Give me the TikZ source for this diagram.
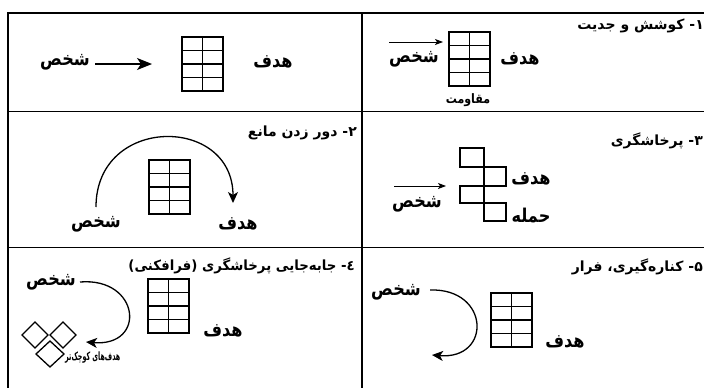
\documentclass[tikz,border=0pt]{standalone}
\usepackage{graphicx}
\usepackage{fontspec}
\newfontfamily\arabicfont[Script=Arabic]{DejaVu Sans}
\TeXXeTstate=1
\usetikzlibrary{arrows.meta}
\newcommand{\fa}[1]{\arabicfont\beginR #1\endR}
\newcommand{\faS}[2]{\scalebox{#1}[1]{\arabicfont #2}}
\tikzset{
  tbl/.style={line width=1.6pt},
  gridbox/.style={line width=1.5pt},
  lbl/.style={inner sep=0pt, font=\arabicfont\bfseries\fontsize{19}{21}\selectfont},
  ttl/.style={inner sep=0pt, font=\arabicfont\bfseries\fontsize{14}{16}\selectfont},
  small/.style={inner sep=0pt, font=\arabicfont\bfseries\fontsize{13}{15}\selectfont},
  tiny/.style={inner sep=0pt, font=\arabicfont\bfseries\fontsize{11.5}{13}\selectfont},
  conn/.style={line width=1.3pt},
  bigarr/.style={conn, -{Stealth[length=15pt,width=12pt,inset=4pt]}},
  midarr/.style={conn, -{Stealth[length=11pt,width=10pt,inset=3pt]}},
  thinarr/.style={line width=1pt, -{Stealth[length=8pt,width=6pt,inset=2pt]}},
  dia/.style={line width=1.3pt}
}
\newcommand{\gridpic}[3]{% x y name
  \draw[gridbox] (#1,#2) rectangle ++(41,54);
  \draw[gridbox] (#1+20.5,#2) -- ++(0,54);
  \foreach \k in {1,2,3} \draw[gridbox] (#1,#2+13.5*\k) -- ++(41,0);
  \coordinate (#3) at (#1+20.5,#2+27);
}
\begin{document}
\begin{tikzpicture}[x=1pt,y=-1pt]
\useasboundingbox (0,0) rectangle (704,388);
\fill[white] (0,0) rectangle (704,388);
% table
\draw[tbl] (8,388) -- (8,13) -- (706,13);
\draw[tbl] (362,13) -- (362,390);
\draw[tbl] (8,111.5) -- (706,111.5);
\draw[tbl] (8,247.5) -- (706,247.5);

% ---- cell top-left
\node[lbl] (p1) at (65,62) {\faS{0.85}{\beginR شخص\endR}};
\node[lbl] (t1) at (273,62) {\faS{0.85}{\beginR هدف\endR}};
\gridpic{182}{37}{g1}
\coordinate (a1s) at (95,64);
\coordinate (a1e) at (152,64);
\draw[bigarr] (a1s) -- (a1e);

% ---- cell top-right (1)
\node[ttl, anchor=east] (h1) at (704,26) {\fa{۱- کوشش و جدیت}};
\gridpic{449}{32}{g2}
\node[lbl] (p2) at (414,59) {\faS{0.85}{\beginR شخص\endR}};
\node[lbl] (t2) at (520,59) {\faS{0.85}{\beginR هدف\endR}};
\node[small] (r2) at (468,100) {\faS{0.85}{\beginR مقاومت\endR}};
\coordinate (a2s) at (389,42);
\coordinate (a2e) at (443,42);
\draw[thinarr] (a2s) -- (a2e);

% ---- cell middle-left (2)
\node[ttl, anchor=east] (h2) at (357,133) {\fa{۲- دور زدن مانع}};
\gridpic{149}{160}{g3}
\node[lbl] (p3) at (96,224) {\faS{0.85}{\beginR شخص\endR}};
\node[lbl] (t3) at (238,224) {\faS{0.85}{\beginR هدف\endR}};
\coordinate (a3s) at (96,207);
\coordinate (a3e) at (233,203);
\draw[midarr] (a3s) .. controls (96,115) and (233,115) .. (a3e);

% ---- cell middle-right (3)
\node[ttl, anchor=east] (h3) at (703,141) {\fa{۳- پرخاشگری}};
\draw[gridbox] (460,148) rectangle (484,167);
\draw[gridbox] (484,167) rectangle (506,186);
\draw[gridbox] (460,186) rectangle (484,203);
\draw[gridbox] (484,203) rectangle (506,221);
\node[lbl] (p4) at (417,204) {\faS{0.85}{\beginR شخص\endR}};
\node[lbl] (t4) at (531,179) {\faS{0.85}{\beginR هدف\endR}};
\node[lbl] (k4) at (531,216) {\faS{0.85}{\beginR حمله\endR}};
\coordinate (a4s) at (394,186);
\coordinate (a4e) at (446,186);
\draw[thinarr] (a4s) -- (a4e);

% ---- cell bottom-left (4)
\node[ttl, anchor=east] (h5) at (355,266) {\faS{0.95}{\beginR ٤- جابه‌جایی پرخاشگری (فرافکنی)\endR}};
\node[lbl] (p5) at (51,282) {\faS{0.85}{\beginR شخص\endR}};
\gridpic{148}{279}{g5}
\node[lbl] (t5) at (223,331) {\faS{0.85}{\beginR هدف\endR}};
\draw[dia] (35,322) -- (48,335) -- (35,348) -- (22,335) -- cycle;
\draw[dia] (63,322) -- (76,335) -- (63,348) -- (50,335) -- cycle;
\draw[dia] (50,341) -- (64,354) -- (50,367) -- (36,354) -- cycle;
\node[tiny, anchor=west] (s5) at (65,358) {\faS{0.55}{\beginR هدف‌های کوچک‌تر\endR}};
\coordinate (a5s) at (80,282);
\coordinate (a5e) at (86,342);
\draw[midarr] (a5s) .. controls (140,277) and (147,347) .. (a5e);

% ---- cell bottom-right (5)
\node[ttl, anchor=east] (h6) at (703,267) {\fa{۵- کناره‌گیری، فرار}};
\node[lbl] (p6) at (396,292) {\faS{0.85}{\beginR شخص\endR}};
\gridpic{491}{293}{g6}
\node[lbl] (t6) at (565,342) {\faS{0.85}{\beginR هدف\endR}};
\coordinate (a6s) at (430,290);
\coordinate (a6e) at (432,355);
\draw[midarr] (a6s) .. controls (490,288) and (492,360) .. (a6e);
\end{tikzpicture}
\end{document}
